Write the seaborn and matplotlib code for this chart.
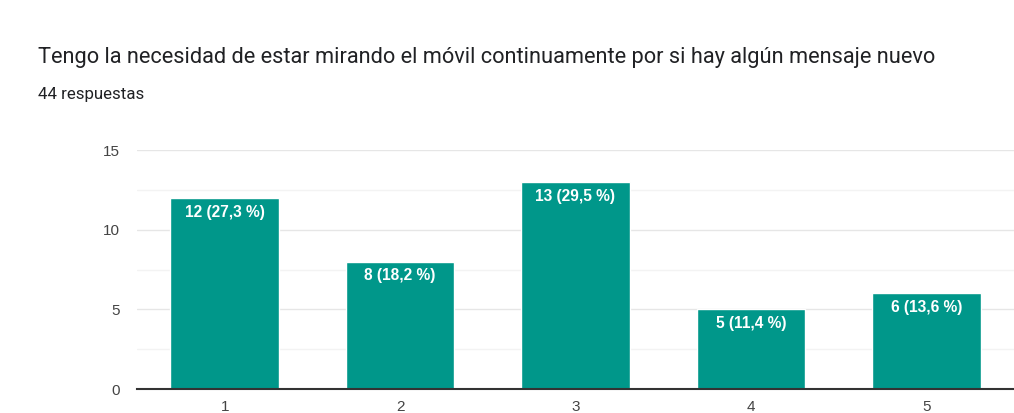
import matplotlib
matplotlib.use("Agg")
import matplotlib.pyplot as plt
import seaborn as sns

# Datos de la encuesta
categorias = ["1", "2", "3", "4", "5"]
respuestas = [12, 8, 13, 5, 6]
etiquetas = ["12 (27,3 %)", "8 (18,2 %)", "13 (29,5 %)", "5 (11,4 %)", "6 (13,6 %)"]
total = 44
titulo = "Tengo la necesidad de estar mirando el móvil continuamente por si hay algún mensaje nuevo"

sns.set_theme(style="white")
plt.rcParams["font.family"] = ["Liberation Sans", "DejaVu Sans"]

fig = plt.figure(figsize=(10.14, 4.13), dpi=100)
ax = fig.add_axes([0.1351, 0.0581, 0.8649, 0.5787])

sns.barplot(x=categorias, y=respuestas, color="#00978a", saturation=1, width=0.62, ax=ax)

ax.set_ylim(0, 15)
ax.set_xlim(-0.5, 4.5)
ax.set_yticks([0, 5, 10, 15])
ax.set_yticks([2.5, 7.5, 12.5], minor=True)
ax.grid(axis="y", which="major", color="#e6e6e6", linewidth=1)
ax.grid(axis="y", which="minor", color="#f3f3f3", linewidth=1)
ax.set_axisbelow(True)
for s in ["top", "right", "left"]:
    ax.spines[s].set_visible(False)
ax.spines["bottom"].set_color("#333333")
ax.spines["bottom"].set_linewidth(1.5)
ax.tick_params(axis="both", which="both", length=0, labelsize=11, colors="#444444")
ax.tick_params(axis="y", pad=12)
ax.tick_params(axis="x", pad=8)
ax.set_xlabel("")
ax.set_ylabel("")

# Etiquetas dentro de las barras
for barra, texto in zip(ax.patches, etiquetas):
    ax.annotate(texto, (barra.get_x() + barra.get_width() / 2, barra.get_height()),
                xytext=(0, -5), textcoords="offset points", ha="center", va="top",
                color="white", fontsize=11.2, fontweight="bold")

fig.text(38 / 1014, 1 - 57 / 413, titulo, fontsize=15.7, color="#202124", va="center", ha="left",
         family=["Roboto", "DejaVu Sans"])
fig.text(38 / 1014, 1 - 95 / 413, f"{total} respuestas", fontsize=12.2, color="#202124", va="center", ha="left",
         family=["Roboto", "DejaVu Sans"])

fig.savefig("out.png", dpi=100, facecolor="white")
